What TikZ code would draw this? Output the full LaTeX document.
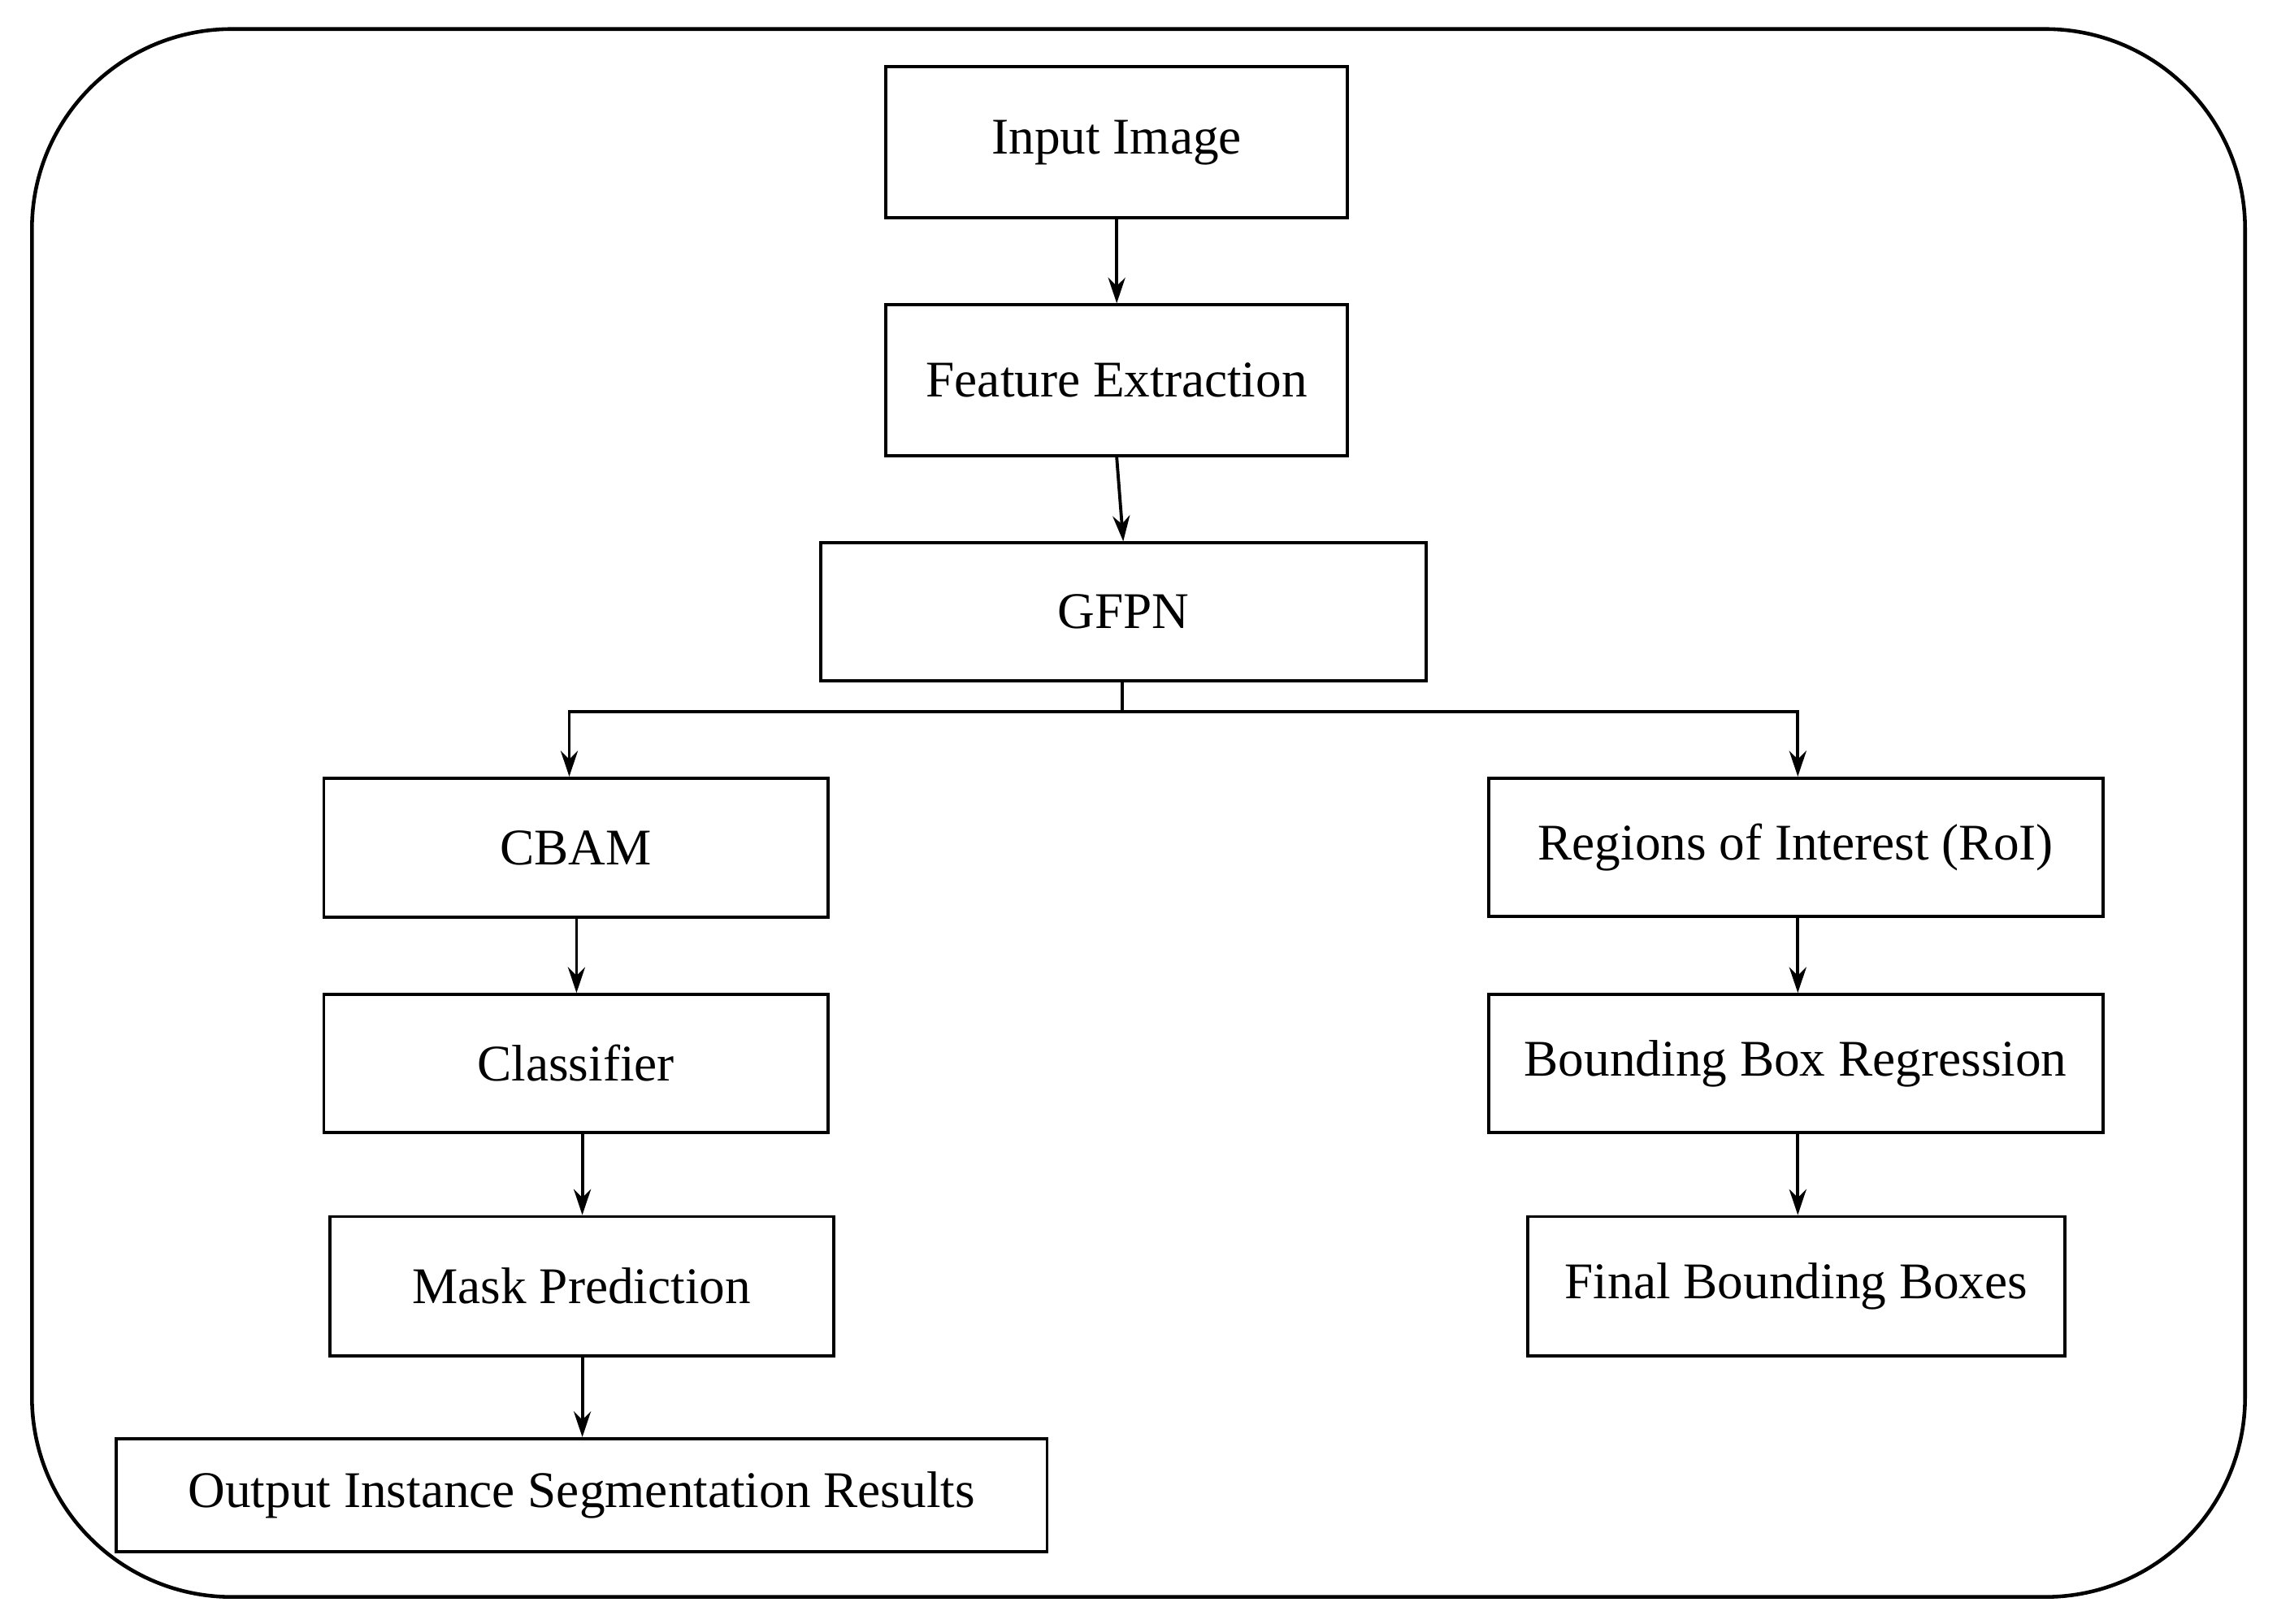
\documentclass[tikz,border=0pt]{standalone}
\usepackage{fontspec}
\setmainfont{Liberation Serif}
\usetikzlibrary{arrows.meta}
\begin{document}
\begin{tikzpicture}[x=0.01787cm,y=-0.01787cm,
  box/.style={draw,line width=1.1pt,inner sep=0pt,font=\fontsize{18}{20}\selectfont},
  arr/.style={-{Stealth[length=9pt,width=6pt]},line width=1.1pt}]
\useasboundingbox (0,0) rectangle (1568,1118.6);
\draw[line width=1.3pt,rounded corners=70] (22,20) rectangle (1546,1100);
\newcommand{\bx}[6]{\node[box,minimum width={(#4-#2)*0.01787cm},minimum height={(#5-#3)*0.01787cm}] (#1) at ({(#2+#4)/2},{(#3+#5)/2}) {#6};}
\bx{in}{610}{46}{928}{150}{Input Image}
\bx{fe}{610}{210}{928}{314}{Feature Extraction}
\bx{gf}{565}{374}{982}{469}{GFPN}
\bx{cb}{223}{536}{570}{632}{CBAM}
\bx{cl}{223}{685}{570}{780}{Classifier}
\bx{mp}{227}{838}{574}{934}{Mask Prediction}
\bx{out}{80}{991}{721}{1069}{Output Instance Segmentation Results}
\bx{roi}{1025}{536}{1448}{631}{Regions of Interest (RoI)}
\bx{bbr}{1025}{685}{1448}{780}{Bounding Box Regression}
\bx{fb}{1052}{838}{1422}{934}{Final Bounding Boxes}
\draw[arr] (in.south) -- (fe.north);
\draw[arr] (fe.south) -- (gf.north);
\coordinate (j) at (773,490);
\draw[line width=1.1pt] (gf.south -| j) -- (j);
\draw[arr] (j) -- (392,490) -- (cb.north -| 392,0);
\draw[arr] (j) -- (1238,490) -- (roi.north -| 1238,0);
\draw[arr] (cb.south -| 397,0) -- (cl.north -| 397,0);
\draw[arr] (cl.south -| 401,0) -- (mp.north -| 401,0);
\draw[arr] (mp.south -| 401,0) -- (out.north -| 401,0);
\draw[arr] (roi.south -| 1238,0) -- (bbr.north -| 1238,0);
\draw[arr] (bbr.south -| 1238,0) -- (fb.north -| 1238,0);
\end{tikzpicture}
\end{document}
